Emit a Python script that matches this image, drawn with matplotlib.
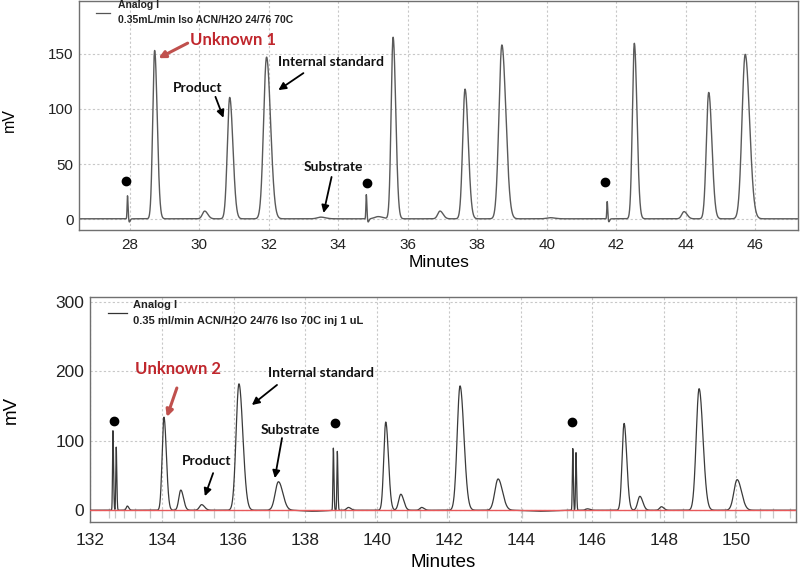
import matplotlib
matplotlib.use('Agg')
import matplotlib.pyplot as plt
import numpy as np

plt.rcParams['font.family'] = ['Liberation Sans', 'DejaVu Sans']

# peak tables: retention time (min), height (mV), width (min)
top_times = [27.94, 27.99, 28.72, 30.16, 30.88, 31.94, 33.50, 34.81, 34.86, 35.15,
             35.58, 36.93, 37.65, 38.71, 40.10, 41.74, 41.78, 42.52, 43.95, 44.66, 45.71]
top_heights = [21, -3, 152.5, 7, 110, 146.5, 1.5, 22, -3, 2,
               164.5, 7, 117.5, 157.5, 1, 16, -3, 159, 6.5, 114.5, 149]
top_widths = [0.012, 0.02, 0.055, 0.065, 0.068, 0.085, 0.1, 0.012, 0.02, 0.1,
              0.056, 0.065, 0.068, 0.085, 0.1, 0.012, 0.02, 0.056, 0.065, 0.068, 0.092]

bot_times = [132.64, 132.73, 133.04, 134.06, 134.53, 135.11, 136.15, 137.25, 138.20,
             138.78, 138.89, 139.20, 140.24, 140.66, 141.24, 142.31, 143.37, 144.50,
             145.45, 145.54, 145.86, 146.88, 147.32, 147.92, 148.97, 150.03]
bot_heights = [115, 91, 6, 134, 29, 8, 182, 41, -1.5,
               90, 85, 4, 127, 23, 4, 179, 45, -1.5,
               89, 83, 2, 125, 20, 5, 175, 44]
bot_widths = [0.012, 0.012, 0.03, 0.05, 0.055, 0.06, 0.08, 0.09, 0.25,
              0.012, 0.012, 0.05, 0.055, 0.06, 0.05, 0.08, 0.09, 0.3,
              0.012, 0.012, 0.05, 0.055, 0.06, 0.05, 0.08, 0.09]

# integration event marks on the lower trace
event_times = [132.52, 132.69, 132.95, 133.24, 133.66, 134.01, 134.35, 134.90, 135.45,
               136.00, 137.00, 137.51, 138.82, 139.00, 139.10, 139.33, 139.94, 140.40,
               140.82, 141.19, 141.94, 143.05, 144.03, 145.28, 145.46, 145.79, 146.48,
               147.23, 147.46, 147.88, 148.53, 149.69, 149.97, 150.66, 151.03, 151.50]

top_dots = ([27.90, 34.82, 41.68], [34.7, 32.9, 33.6])
bot_dots = ([132.67, 138.82, 145.43], [128.4, 125.5, 127.0])


def trace(t, times, heights, widths):
    y = np.zeros_like(t)
    for t0, h, w in zip(times, heights, widths):
        # slightly tailing peak shape
        s = np.where(t < t0, w, w * 1.35)
        y += h * np.exp(-0.5 * ((t - t0) / s) ** 2)
    return y


def style_axes(ax, fs):
    for sp in ax.spines.values():
        sp.set_color('#707070')
        sp.set_linewidth(1.0)
    ax.grid(True, color='#c8c8c8', linestyle=(0, (2, 2)), linewidth=0.8)
    ax.set_axisbelow(True)
    ax.tick_params(length=0, labelsize=fs, colors='#222222')


fig = plt.figure(figsize=(8, 5.72), dpi=100)
ax1 = fig.add_axes([0.099, 0.598, 0.899, 0.400])
ax2 = fig.add_axes([0.1125, 0.0874, 0.8825, 0.3933])

red = '#c0272d'
ann_font = dict(family=['Lato', 'DejaVu Sans'], fontweight='bold', color='#111111')

# ---- top chromatogram
t1 = np.linspace(26.5, 47.3, 8000)
ax1.plot(t1, trace(t1, top_times, top_heights, top_widths) + 0.4, color='#5a5a5a', lw=1.0)
ax1.plot(*top_dots, 'o', color='black', ms=6)
ax1.set_xlim(26.55, 47.24)
ax1.set_ylim(-9.7, 197.6)
ax1.set_xticks(np.arange(28, 47, 2))
ax1.set_yticks([0, 50, 100, 150])
style_axes(ax1, 11)
ax1.tick_params(axis='x', pad=6)
ax1.tick_params(axis='y', pad=4)
ax1.set_xlabel('Minutes', fontsize=12.5)
ax1.xaxis.set_label_coords(0.5, -0.144)
ax1.xaxis.label.set_va('center')
ax1.set_ylabel('mV', fontsize=11.5)
ax1.yaxis.set_label_coords(-0.097, 0.48)
ax1.yaxis.label.set_va('center')

ax1.plot([0.024, 0.043], [0.946, 0.946], transform=ax1.transAxes, color='#555555', lw=0.9)
ax1.text(0.054, 0.983, 'Analog I', transform=ax1.transAxes, fontsize=7.5,
         fontweight='bold', va='center', color='#222222')
ax1.text(0.054, 0.919, '0.35mL/min Iso ACN/H2O 24/76 70C', transform=ax1.transAxes,
         fontsize=7.5, fontweight='bold', va='center', color='#222222')

ax1.annotate('Unknown 1', xy=(28.83, 145.9), xytext=(29.75, 162.3), ha='left', va='center',
             fontsize=12, fontweight='bold', family=['Lato', 'DejaVu Sans'], color=red,
             arrowprops=dict(arrowstyle='-|>', color='#c0504d', lw=2.2, mutation_scale=10,
                             shrinkA=0, shrinkB=0, relpos=(0, 0.4)))
ax1.text(29.95, 118.9, 'Product', ha='center', va='center', fontsize=10, **ann_font)
ax1.annotate('', xy=(30.70, 91.9), xytext=(30.47, 110.9),
             arrowprops=dict(arrowstyle='-|>', color='black', lw=1.3, mutation_scale=11,
                             shrinkA=0, shrinkB=0))
ax1.text(33.78, 142.4, 'Internal standard', ha='center', va='center', fontsize=10, **ann_font)
ax1.annotate('', xy=(32.28, 117.0), xytext=(33.0, 132.4),
             arrowprops=dict(arrowstyle='-|>', color='black', lw=1.3, mutation_scale=11,
                             shrinkA=0, shrinkB=0))
ax1.text(33.87, 47.3, 'Substrate', ha='center', va='center', fontsize=10, **ann_font)
ax1.annotate('', xy=(33.58, 5.7), xytext=(33.81, 38.3),
             arrowprops=dict(arrowstyle='-|>', color='black', lw=1.3, mutation_scale=11,
                             shrinkA=0, shrinkB=0))

# ---- bottom chromatogram
t2 = np.linspace(131.9, 151.8, 8000)
ax2.vlines(event_times, -11, 3, color='#c8c8c8', lw=0.9, zorder=2)
ax2.plot(t2, trace(t2, bot_times, bot_heights, bot_widths), color='#3a3a3a', lw=0.9, zorder=3)
ax2.axhline(0, color='#e8595b', lw=1.0, zorder=4)
ax2.plot(*bot_dots, 'o', color='black', ms=6, zorder=5)
ax2.set_xlim(132, 151.67)
ax2.set_ylim(-17, 307)
ax2.set_xticks(np.arange(132, 151, 2))
ax2.set_yticks([0, 100, 200, 300])
style_axes(ax2, 12.5)
ax2.tick_params(axis='x', pad=8)
ax2.tick_params(axis='y', pad=4)
ax2.set_xlabel('Minutes', fontsize=13.5)
ax2.xaxis.set_label_coords(0.5, -0.178)
ax2.xaxis.label.set_va('center')
ax2.set_ylabel('mV', fontsize=13.5)
ax2.yaxis.set_label_coords(-0.112, 0.5)
ax2.yaxis.label.set_va('center')

ax2.plot([0.0255, 0.052], [0.930, 0.930], transform=ax2.transAxes, color='#333333', lw=0.9)
ax2.text(0.061, 0.964, 'Analog I', transform=ax2.transAxes, fontsize=8,
         fontweight='bold', va='center', color='#222222')
ax2.text(0.061, 0.893, '0.35 ml/min ACN/H2O 24/76 Iso 70C inj 1 uL', transform=ax2.transAxes,
         fontsize=8, fontweight='bold', va='center', color='#222222')

ax2.text(133.25, 203.5, 'Unknown 2', ha='left', va='center', fontsize=12,
         fontweight='bold', family=['Lato', 'DejaVu Sans'], color=red)
ax2.annotate('', xy=(134.14, 134.2), xytext=(134.42, 176),
             arrowprops=dict(arrowstyle='-|>', color='#c0504d', lw=2.2, mutation_scale=10,
                             shrinkA=0, shrinkB=0))
ax2.text(135.25, 70.7, 'Product', ha='center', va='center', fontsize=10, **ann_font)
ax2.annotate('', xy=(135.2, 20.2), xytext=(135.43, 53.4),
             arrowprops=dict(arrowstyle='-|>', color='black', lw=1.3, mutation_scale=11,
                             shrinkA=0, shrinkB=0))
ax2.text(138.43, 197.7, 'Internal standard', ha='center', va='center', fontsize=10, **ann_font)
ax2.annotate('', xy=(136.51, 151.5), xytext=(137.21, 180.4),
             arrowprops=dict(arrowstyle='-|>', color='black', lw=1.3, mutation_scale=11,
                             shrinkA=0, shrinkB=0))
ax2.text(137.57, 115.4, 'Substrate', ha='center', va='center', fontsize=10, **ann_font)
ax2.annotate('', xy=(137.15, 46.2), xytext=(137.35, 103.9),
             arrowprops=dict(arrowstyle='-|>', color='black', lw=1.3, mutation_scale=11,
                             shrinkA=0, shrinkB=0))

fig.savefig('out.png', dpi=100)
